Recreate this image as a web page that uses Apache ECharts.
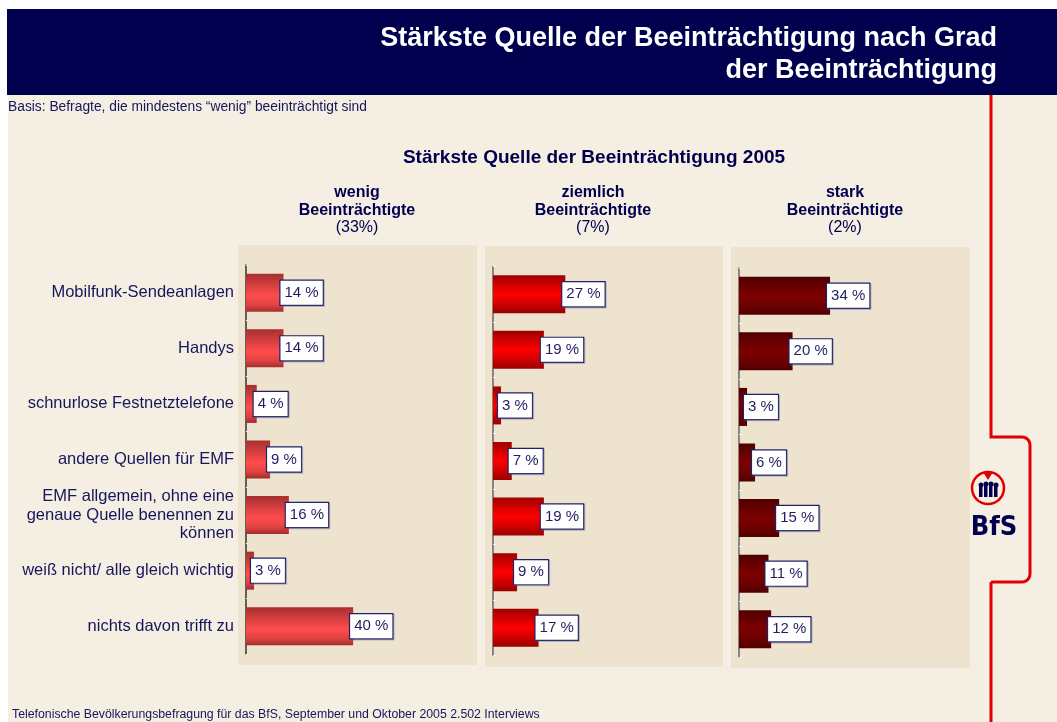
<!DOCTYPE html>
<html>
<head>
<meta charset="utf-8">
<script src="https://cdn.jsdelivr.net/npm/echarts@6/dist/echarts.min.js"></script>
<style>
html,body{margin:0;padding:0;background:#ffffff;}
#chart{width:1057px;height:722px;}
</style>
</head>
<body>
<div id="chart"></div>
<script>
// ---- data ----
const categories = [
  'Mobilfunk-Sendeanlagen',
  'Handys',
  'schnurlose Festnetztelefone',
  'andere Quellen für EMF',
  'EMF allgemein, ohne eine\ngenaue Quelle benennen zu\nkönnen',
  'weiß nicht/ alle gleich wichtig',
  'nichts davon trifft zu'
];
const wenig = [14, 14, 4, 9, 16, 3, 40];
const ziemlich = [27, 19, 3, 7, 19, 9, 17];
const stark = [34, 20, 3, 6, 15, 11, 12];
const groupNames = ['wenig', 'ziemlich', 'stark'];
const groupShares = ['(33%)', '(7%)', '(2%)'];
const mainTitle = ['Stärkste Quelle der Beeinträchtigung nach Grad', 'der Beeinträchtigung'];
const chartTitle = 'Stärkste Quelle der Beeinträchtigung 2005';
const basisText = 'Basis: Befragte, die mindestens “wenig” beeinträchtigt sind';
const footerText = 'Telefonische Bevölkerungsbefragung für das BfS, September und Oktober 2005 2.502 Interviews';

// ---- styling ----
const NAVY = '#00004F';
const TXT = '#16165C';
const FONT = '"Liberation Sans", Arial, sans-serif';
const seriesData = [wenig, ziemlich, stark];
const gradients = [
  [[0,'#A52F2F'],[0.2,'#C63A3A'],[0.58,'#FF4C4C'],[0.82,'#E04343'],[1,'#A22C2C']],
  [[0,'#9E0000'],[0.25,'#D00000'],[0.5,'#FF0000'],[0.75,'#D00000'],[1,'#9A0000']],
  [[0,'#4E0000'],[0.3,'#6E0000'],[0.5,'#7C0000'],[0.75,'#6E0000'],[1,'#500000']]
];
const gridLefts = [246, 493, 739];
const gridTops = [265, 266.5, 268];
const panels = [[238,245,239,420],[485,246,238,421],[731,247,239,421]];
const headerX = [357, 593, 845];

const grids = [], xAxes = [], yAxes = [], series = [];
for (let i = 0; i < 3; i++) {
  grids.push({left: gridLefts[i], top: gridTops[i], width: 225, height: 389});
  xAxes.push({type: 'value', gridIndex: i, min: 0, max: 84, show: false});
  yAxes.push({
    type: 'category', gridIndex: i, data: categories, inverse: true,
    axisLine: {show: true, lineStyle: {color: i === 0 ? '#333' : '#666', width: 1.5}},
    axisTick: {show: true, inside: true, length: 3, lineStyle: {color: '#F8F3EA', width: 1}},
    axisLabel: i === 0 ? {
      show: true, color: TXT, fontSize: 16.5, lineHeight: 18.5, fontFamily: FONT, margin: 12, align: 'right'
    } : {show: false},
    splitLine: {show: false}
  });
  series.push({
    type: 'bar', xAxisIndex: i, yAxisIndex: i, data: seriesData[i], barWidth: 38,
    itemStyle: {color: {type: 'linear', x: 0, y: 0, x2: 0, y2: 1,
      colorStops: gradients[i].map(s => ({offset: s[0], color: s[1]}))}},
    label: {
      show: true, position: 'right', distance: -3, formatter: '{c} %',
      color: '#1F1F60', fontSize: 15, fontFamily: FONT, lineHeight: 18,
      backgroundColor: '#ffffff', borderColor: '#20206A', borderWidth: 1.2,
      padding: [3, 4, 3, 4],
      shadowColor: 'rgba(90,90,140,0.35)', shadowOffsetX: 1, shadowOffsetY: 1, shadowBlur: 0
    },
    emphasis: {disabled: true},
    animation: false
  });
}

// rounded corner helper for decorative bracket
function arcPts(cx, cy, r, a0, a1) {
  const pts = [];
  for (let k = 0; k <= 6; k++) {
    const a = a0 + (a1 - a0) * k / 6;
    pts.push([cx + r * Math.cos(a), cy + r * Math.sin(a)]);
  }
  return pts;
}
const bracketTop = [[991, 95], [991, 437]].concat([[1022, 437]], arcPts(1022, 445, 8, -Math.PI / 2, 0), [[1030, 574]], arcPts(1022, 574, 8, 0, Math.PI / 2), [[991, 582]]);

const graphic = [
  {type: 'rect', shape: {x: 8, y: 9, width: 1049, height: 713}, style: {fill: '#F5EEE2'}, z: -10},
  {type: 'rect', shape: {x: 7, y: 9, width: 1050, height: 86}, style: {fill: NAVY}, z: -9},
  {type: 'text', x: 997, y: 39, style: {text: mainTitle[0], fill: '#ffffff', font: 'bold 27px ' + FONT, align: 'right', verticalAlign: 'middle'}},
  {type: 'text', x: 997, y: 71, style: {text: mainTitle[1], fill: '#ffffff', font: 'bold 27px ' + FONT, align: 'right', verticalAlign: 'middle'}},
  {type: 'text', x: 8, y: 107, style: {text: basisText, fill: TXT, font: '13.8px ' + FONT, align: 'left', verticalAlign: 'middle'}},
  {type: 'text', x: 594, y: 158, style: {text: chartTitle, fill: NAVY, font: 'bold 19px ' + FONT, align: 'center', verticalAlign: 'middle'}},
  {type: 'text', x: 12, y: 715, style: {text: footerText, fill: TXT, font: '12.3px ' + FONT, align: 'left', verticalAlign: 'middle'}},
  {type: 'polyline', shape: {points: bracketTop}, style: {stroke: '#E00000', lineWidth: 3, fill: null}},
  {type: 'line', shape: {x1: 991, y1: 582, x2: 991, y2: 722}, style: {stroke: '#E00000', lineWidth: 3}},
  // logo
  {type: 'circle', shape: {cx: 988, cy: 488, r: 16}, style: {stroke: '#E00000', lineWidth: 2.5, fill: null}},
  {type: 'polygon', shape: {points: [[983,472],[993,472],[988,480]]}, style: {fill: '#E00000'}},
  {type: 'circle', shape: {cx: 981, cy: 485, r: 2.5}, style: {fill: NAVY}},
  {type: 'circle', shape: {cx: 986, cy: 484, r: 2.5}, style: {fill: NAVY}},
  {type: 'circle', shape: {cx: 991, cy: 484, r: 2.5}, style: {fill: NAVY}},
  {type: 'circle', shape: {cx: 996, cy: 485, r: 2.5}, style: {fill: NAVY}},
  {type: 'rect', shape: {x: 979, y: 487, width: 3.5, height: 10}, style: {fill: NAVY}},
  {type: 'rect', shape: {x: 984, y: 486, width: 3.5, height: 11}, style: {fill: NAVY}},
  {type: 'rect', shape: {x: 989, y: 486, width: 3.5, height: 11}, style: {fill: NAVY}},
  {type: 'rect', shape: {x: 994, y: 487, width: 3.5, height: 10}, style: {fill: NAVY}},
  {type: 'text', x: 994, y: 528, style: {text: 'BfS', fill: NAVY, font: 'bold 27px "Liberation Sans Narrow", "DejaVu Sans Condensed", ' + FONT, align: 'center', verticalAlign: 'middle'}}
];
for (let i = 0; i < 3; i++) {
  const p = panels[i];
  graphic.push({type: 'rect', shape: {x: p[0], y: p[1], width: p[2], height: p[3]}, style: {fill: '#EDE3CF'}, z: -5});
  graphic.push({type: 'text', x: headerX[i], y: 193, style: {text: groupNames[i], fill: NAVY, font: 'bold 16px ' + FONT, align: 'center', verticalAlign: 'middle'}});
  graphic.push({type: 'text', x: headerX[i], y: 210.5, style: {text: 'Beeinträchtigte', fill: NAVY, font: 'bold 16px ' + FONT, align: 'center', verticalAlign: 'middle'}});
  graphic.push({type: 'text', x: headerX[i], y: 228, style: {text: groupShares[i], fill: NAVY, font: '16px ' + FONT, align: 'center', verticalAlign: 'middle'}});
}

const chart = echarts.init(document.getElementById('chart'), null, {renderer: 'canvas'});
chart.setOption({
  backgroundColor: '#ffffff',
  animation: false,
  grid: grids,
  xAxis: xAxes,
  yAxis: yAxes,
  series: series,
  graphic: {elements: graphic.map(g => Object.assign({z: g.z !== undefined ? g.z : 0, silent: true}, g))}
});
</script>
</body>
</html>
